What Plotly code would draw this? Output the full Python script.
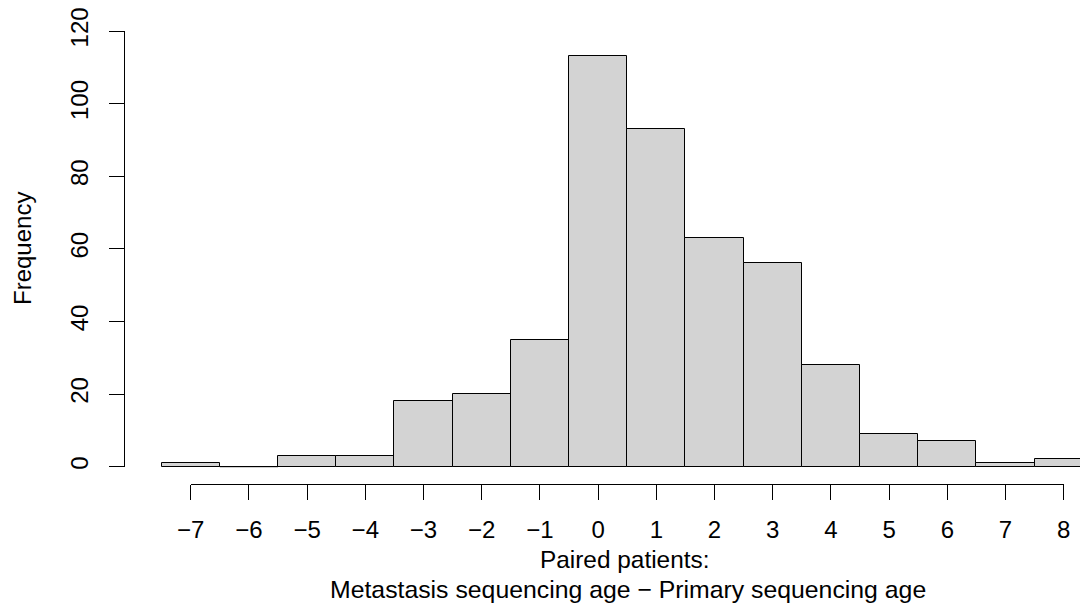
import plotly.graph_objects as go

# Data (bin centres, counts)
bin_centers = [-7, -6, -5, -4, -3, -2, -1, 0, 1, 2, 3, 4, 5, 6, 7, 8]
counts = [1, 0, 3, 3, 18, 20, 35, 113, 93, 63, 56, 28, 9, 7, 1, 2]
x_ticks = [-7, -6, -5, -4, -3, -2, -1, 0, 1, 2, 3, 4, 5, 6, 7, 8]
y_ticks = [0, 20, 40, 60, 80, 100, 120]
y_title = "Frequency"
x_title_1 = "Paired patients:"
x_title_2 = "Metastasis sequencing age \u2212 Primary sequencing age"

# The page body has an 8px margin, so the figure is offset by 8px in the window.
OFF = 8
W, H = 1088 - OFF, 604 - OFF
FONT = "Liberation Sans, Arial, Helvetica, sans-serif"
FS = 24


def px(xw):   # window x pixel -> paper x
    return (xw - OFF) / W


def py(yw):   # window y pixel -> paper y
    return 1 - (yw - OFF) / H


# pixel geometry of the reference (window coordinates)
px_per_x = 58.2
x_px0 = 190.7          # pixel of x = -7
y_px0 = 466.7          # pixel of count 0
y_pxtop = 31.0         # pixel of count 120
px_per_y = (y_px0 - y_pxtop) / (y_ticks[-1] - y_ticks[0])

x_lo = x_ticks[0] - (x_px0 - OFF) / px_per_x
x_hi = x_ticks[0] + (1088 - x_px0) / px_per_x
y_hi = (y_px0 - OFF) / px_per_y
y_lo = -(604 - y_px0) / px_per_y

fig = go.Figure()
fig.add_trace(go.Bar(
    x=bin_centers, y=counts, width=1,
    marker=dict(color="#D3D3D3", line=dict(color="black", width=1)),
    hoverinfo="skip", showlegend=False,
))
# zero-count bins are drawn as flat lines in R
zx, zy = [], []
for c, n in zip(bin_centers, counts):
    if n == 0:
        zx += [c - 0.5, c + 0.5, None]
        zy += [0, 0, None]
fig.add_trace(go.Scatter(x=zx, y=zy, mode="lines",
                         line=dict(color="black", width=1),
                         hoverinfo="skip", showlegend=False))
# dummy trace for the detached axes
fig.add_trace(go.Scatter(x=[None], y=[None], xaxis="x2", yaxis="y2",
                         mode="markers", showlegend=False, hoverinfo="skip"))

x2_dom = [px(x_px0), px(x_px0 + (x_ticks[-1] - x_ticks[0]) * px_per_x)]
y2_dom = [py(y_px0), py(y_pxtop)]

fig.update_layout(
    width=W, height=H,
    margin=dict(l=0, r=0, t=0, b=0, autoexpand=False),
    paper_bgcolor="white", plot_bgcolor="rgba(0,0,0,0)",
    bargap=0,
    font=dict(family=FONT, size=FS, color="black"),
    xaxis=dict(domain=[0, 1], range=[x_lo, x_hi], visible=False, fixedrange=True),
    yaxis=dict(domain=[0, 1], range=[y_lo, y_hi], visible=False, fixedrange=True),
    xaxis2=dict(domain=x2_dom, range=[x_ticks[0], x_ticks[-1]], anchor="free",
                position=py(483.7),
                showline=True, linecolor="black", linewidth=1,
                ticks="outside", ticklen=15, tickwidth=1, tickcolor="black",
                tickvals=x_ticks, showgrid=False, zeroline=False,
                tickfont=dict(family=FONT, size=FS, color="black"),
                ticklabelstandoff=9, ticklabeloverflow="allow"),
    yaxis2=dict(domain=y2_dom, range=[y_ticks[0], y_ticks[-1]], anchor="free",
                position=px(124.0), side="left",
                showline=True, linecolor="black", linewidth=1,
                ticks="outside", ticklen=15, tickwidth=1, tickcolor="black",
                tickvals=y_ticks, tickangle=-90, showgrid=False, zeroline=False,
                tickfont=dict(family=FONT, size=FS, color="black"),
                ticklabelstandoff=11, ticklabeloverflow="allow"),
    annotations=[
        dict(text=y_title, xref="paper", yref="paper", x=px(22.0), y=py(249.0),
             xanchor="center", yanchor="middle", textangle=-90, showarrow=False,
             font=dict(family=FONT, size=FS, color="black")),
        dict(text=x_title_1, xref="paper", yref="paper", x=px(624.5), y=py(559.0),
             xanchor="center", yanchor="middle", showarrow=False,
             font=dict(family=FONT, size=24.4, color="black")),
        dict(text=x_title_2, xref="paper", yref="paper", x=px(627.5), y=py(589.0),
             xanchor="center", yanchor="middle", showarrow=False,
             font=dict(family=FONT, size=24.8, color="black")),
    ],
)

fig.write_html("out.html")
